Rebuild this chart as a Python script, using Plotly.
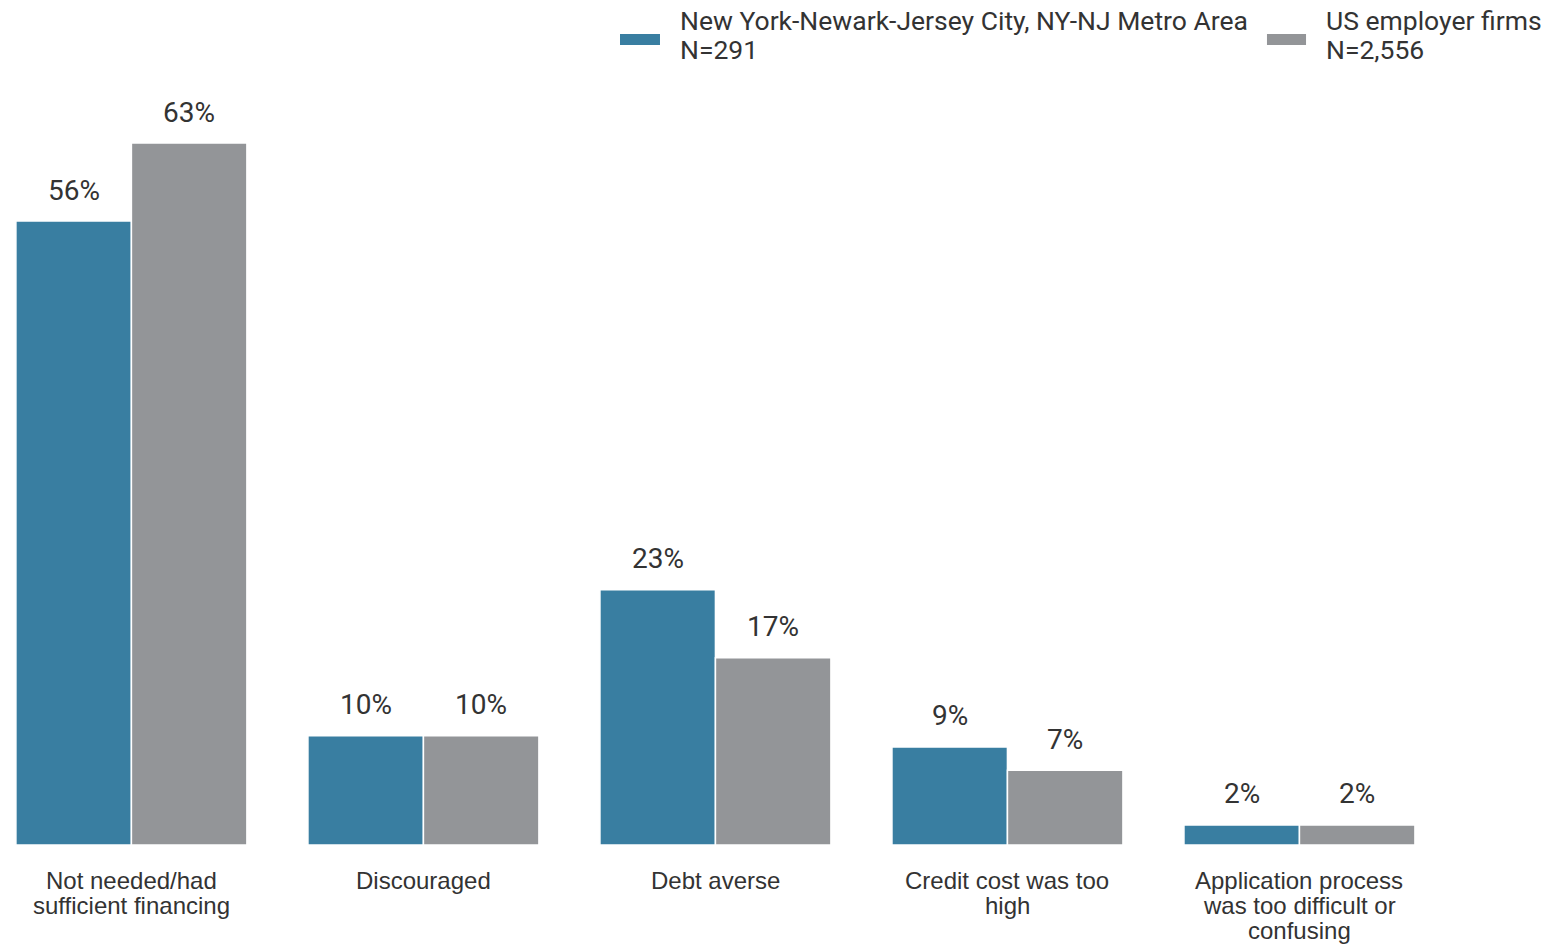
import plotly.graph_objects as go

categories = [
    "Not needed/had<br>sufficient financing",
    "Discouraged",
    "Debt averse",
    "Credit cost was too<br>high",
    "Application process<br>was too difficult or<br>confusing",
]
series_names = ["New York-Newark-Jersey City, NY-NJ Metro Area", "US employer firms"]
series_n = ["N=291", "N=2,556"]
metro_values = [56.0, 9.8, 22.9, 8.8, 1.8]
us_values = [63.0, 9.8, 16.8, 6.7, 1.8]

colors = ["#397ea1", "#939598"]
BARGAP = 0.209
x_pos = list(range(len(categories)))

fig = go.Figure()
for name, vals, col in zip(series_names, [metro_values, us_values], colors):
    fig.add_trace(go.Bar(
        x=x_pos, y=vals, name=name, showlegend=False,
        marker=dict(color=col, line=dict(color="white", width=1.5)),
        hoverinfo="x+y",
    ))

# value labels above each bar (offset to the grouped bar centre)
half = (1 - BARGAP) / 4
for k, vals in enumerate([metro_values, us_values]):
    off = -half if k == 0 else half
    for i, v in enumerate(vals):
        fig.add_annotation(
            x=i + off, y=v, xref="x", yref="y", text=f"{v:.0f}%",
            showarrow=False, yanchor="middle", yshift=31,
            font=dict(family="Roboto", size=28, color="#333333"),
        )

# category labels, line by line for tighter spacing
for i, cat in enumerate(categories):
    for j, line in enumerate(cat.split("<br>")):
        fig.add_annotation(
            x=i, y=0, xref="x", yref="y", text=line,
            showarrow=False, yanchor="middle", yshift=-35 - 25 * j,
            font=dict(family="Liberation Sans, Arial", size=24, color="#333333"),
        )

# legend drawn by hand (wide swatches, two-line entries)
legend_items = [
    (0.4, 0.4258, 0.4374),
    (0.8174, 0.8426, 0.8542),
]
for (x0, x1, tx), name, n, col in zip(legend_items, series_names, series_n, colors):
    fig.add_shape(type="rect", xref="paper", yref="paper",
                  x0=x0, x1=x1, y0=1.0596, y1=1.0742,
                  fillcolor=col, line=dict(width=0))
    for line, yy in [(name, 1.0914), (n, 1.0543)]:
        fig.add_annotation(
            x=tx, y=yy, xref="paper", yref="paper", text=line,
            showarrow=False, xanchor="left", yanchor="middle",
            font=dict(family="Roboto", size=26.5, color="#333333"),
        )

fig.update_layout(
    width=1550, height=944,
    barmode="group", bargap=BARGAP, bargroupgap=0,
    plot_bgcolor="white", paper_bgcolor="white",
    margin=dict(l=0, r=0, t=90, b=99),
)
fig.update_xaxes(
    tickvals=x_pos, showticklabels=False, automargin=False,
    range=[-0.45, 4.858], showgrid=False, showline=False, zeroline=False,
)
fig.update_yaxes(
    range=[0, 67.76], visible=False, showgrid=False, zeroline=False,
    automargin=False,
)

# drop the browser's default body margin so the figure fills the window
fig.write_html("out.html", config={"displayModeBar": False},
               post_script="document.body.style.margin='0';")
